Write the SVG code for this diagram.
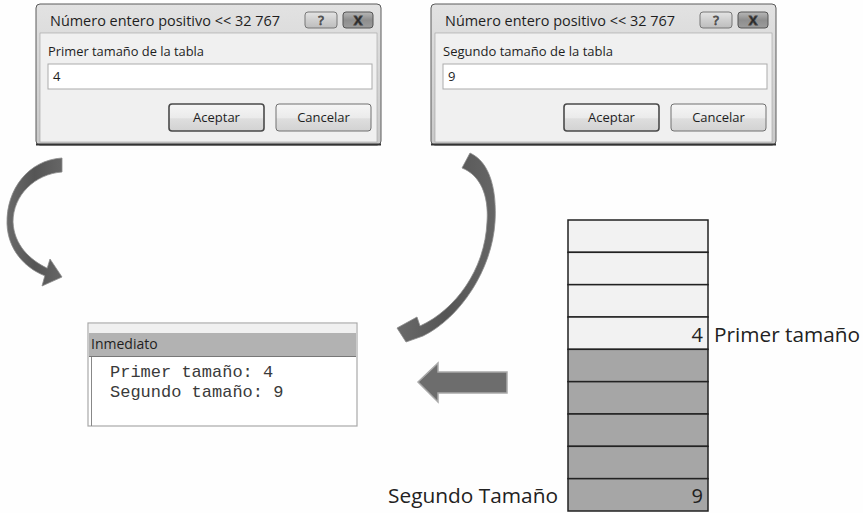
<svg xmlns="http://www.w3.org/2000/svg" width="863" height="513" viewBox="0 0 863 513">
  <defs>
    <linearGradient id="titleGrad" x1="0" y1="0" x2="0" y2="1">
      <stop offset="0" stop-color="#e2e2e2"/>
      <stop offset="1" stop-color="#c9c9c9"/>
    </linearGradient>
    <linearGradient id="btnGrad" x1="0" y1="0" x2="0" y2="1">
      <stop offset="0" stop-color="#f6f6f6"/>
      <stop offset="0.5" stop-color="#ebebeb"/>
      <stop offset="0.55" stop-color="#dedede"/>
      <stop offset="1" stop-color="#d2d2d2"/>
    </linearGradient>
    <linearGradient id="capGrad" x1="0" y1="0" x2="0" y2="1">
      <stop offset="0" stop-color="#e4e4e4"/>
      <stop offset="0.5" stop-color="#cfcfcf"/>
      <stop offset="1" stop-color="#bdbdbd"/>
    </linearGradient>
    <linearGradient id="closeGrad" x1="0" y1="0" x2="0" y2="1">
      <stop offset="0" stop-color="#b8b8b8"/>
      <stop offset="0.5" stop-color="#8e8e8e"/>
      <stop offset="1" stop-color="#9c9c9c"/>
    </linearGradient>
    <linearGradient id="arrowGrad" x1="0" y1="0" x2="1" y2="0">
      <stop offset="0" stop-color="#6a6a6a"/>
      <stop offset="0.5" stop-color="#555555"/>
      <stop offset="1" stop-color="#666666"/>
    </linearGradient>
  </defs>
  <style>
    .ui { font-family: "Open Sans", "Noto Sans", "DejaVu Sans", sans-serif; fill: #1e1e1e; }
    .title { font-size: 15px; }
    .label { font-size: 13px; }
    .btn { fill: url(#btnGrad); stroke: #707070; stroke-width: 1; }
    .btnDefault { fill: url(#btnGrad); stroke: #4a4a4a; stroke-width: 1.6; }
    .btnText { font-size: 13px; text-anchor: middle; }
    .mono { font-family: "Liberation Mono", "DejaVu Sans Mono", monospace; font-size: 17px; fill: #3a3a3a; }
    .cell { stroke: #222; stroke-width: 1.5; }
    .light { fill: #f2f2f2; }
    .dark { fill: #a6a6a6; }
    .cal { font-family: "Open Sans", "Noto Sans", sans-serif; font-size: 20px; fill: #222; }
    .curved { fill: url(#arrowGrad); stroke: #8c8c8c; stroke-width: 0.8; }
    .block { fill: #6d6d6d; stroke: #a9a9a9; stroke-width: 1.5; }
  </style>

  <rect x="0" y="0" width="863" height="513" fill="#fefefe"/>

  <!-- first input dialog -->
  <g id="dialog1">
    <rect x="36" y="4" width="345" height="141" rx="4" fill="url(#titleGrad)" stroke="#5a5a5a" stroke-width="1"/>
    <rect x="40" y="33" width="337" height="109" fill="#f0f0f0" stroke="#a0a0a0" stroke-width="0.6"/>
    <line x1="36" y1="144.5" x2="381" y2="144.5" stroke="#333" stroke-width="2"/>
    <text class="ui title" x="50" y="26" textLength="230" lengthAdjust="spacingAndGlyphs">Número entero positivo &lt;&lt; 32 767</text>
    <rect x="305" y="12" width="32" height="16" rx="3" fill="url(#capGrad)" stroke="#777"/>
    <text class="ui" x="321" y="25" font-size="13" text-anchor="middle" fill="#eee" stroke="#555" stroke-width="0.8">?</text>
    <rect x="343" y="12" width="30" height="16" rx="3" fill="url(#closeGrad)" stroke="#555"/>
    <text class="ui" x="358" y="25" font-size="13" font-weight="bold" text-anchor="middle" fill="#fff" stroke="#444" stroke-width="0.8">X</text>
    <text class="ui label" x="48" y="56" textLength="156" lengthAdjust="spacingAndGlyphs">Primer tamaño de la tabla</text>
    <rect x="48" y="64" width="324" height="25" fill="#fff" stroke="#ababab"/>
    <text class="ui label" x="53" y="81">4</text>
    <rect class="btnDefault" x="169" y="104" width="95" height="27" rx="3"/>
    <text class="ui btnText" x="216.5" y="122">Aceptar</text>
    <rect class="btn" x="276" y="104" width="95" height="27" rx="3"/>
    <text class="ui btnText" x="323.5" y="122">Cancelar</text>
  </g>

  <!-- second input dialog -->
  <g id="dialog2" transform="translate(395,0)">
    <rect x="36" y="4" width="345" height="141" rx="4" fill="url(#titleGrad)" stroke="#5a5a5a" stroke-width="1"/>
    <rect x="40" y="33" width="337" height="109" fill="#f0f0f0" stroke="#a0a0a0" stroke-width="0.6"/>
    <line x1="36" y1="144.5" x2="381" y2="144.5" stroke="#333" stroke-width="2"/>
    <text class="ui title" x="50" y="26" textLength="230" lengthAdjust="spacingAndGlyphs">Número entero positivo &lt;&lt; 32 767</text>
    <rect x="305" y="12" width="32" height="16" rx="3" fill="url(#capGrad)" stroke="#777"/>
    <text class="ui" x="321" y="25" font-size="13" text-anchor="middle" fill="#eee" stroke="#555" stroke-width="0.8">?</text>
    <rect x="343" y="12" width="30" height="16" rx="3" fill="url(#closeGrad)" stroke="#555"/>
    <text class="ui" x="358" y="25" font-size="13" font-weight="bold" text-anchor="middle" fill="#fff" stroke="#444" stroke-width="0.8">X</text>
    <text class="ui label" x="48" y="56" textLength="170" lengthAdjust="spacingAndGlyphs">Segundo tamaño de la tabla</text>
    <rect x="48" y="64" width="324" height="25" fill="#fff" stroke="#ababab"/>
    <text class="ui label" x="53" y="81">9</text>
    <rect class="btnDefault" x="169" y="104" width="95" height="27" rx="3"/>
    <text class="ui btnText" x="216.5" y="122">Aceptar</text>
    <rect class="btn" x="276" y="104" width="95" height="27" rx="3"/>
    <text class="ui btnText" x="323.5" y="122">Cancelar</text>
  </g>

  <!-- immediate window -->
  <g id="immediate">
    <rect x="88" y="323" width="269" height="103" fill="#fff" stroke="#a8a8a8" stroke-width="1.2"/>
    <rect x="89" y="324" width="267" height="9" fill="#f0f0f0"/>
    <rect x="89" y="333" width="267" height="23" fill="#b2b2b2"/>
    <line x1="89" y1="356.5" x2="356" y2="356.5" stroke="#777" stroke-width="1"/>
    <line x1="91.5" y1="357" x2="91.5" y2="426" stroke="#888" stroke-width="1"/>
    <text class="ui" x="91" y="349" font-size="14" fill="#222">Inmediato</text>
    <text class="mono" x="110" y="377">Primer tamaño: 4</text>
    <text class="mono" x="110" y="397">Segundo tamaño: 9</text>
  </g>

  <!-- memory table -->
  <g id="table">
    <rect class="cell light" x="568" y="220" width="140" height="32.33"/>
    <rect class="cell light" x="568" y="252.33" width="140" height="32.33"/>
    <rect class="cell light" x="568" y="284.67" width="140" height="32.33"/>
    <rect class="cell light" x="568" y="317" width="140" height="32.33"/>
    <rect class="cell dark" x="568" y="349.33" width="140" height="32.33"/>
    <rect class="cell dark" x="568" y="381.67" width="140" height="32.33"/>
    <rect class="cell dark" x="568" y="414" width="140" height="32.33"/>
    <rect class="cell dark" x="568" y="446.33" width="140" height="32.33"/>
    <rect class="cell dark" x="568" y="478.67" width="140" height="32.33"/>
    <text class="cal" x="703" y="342" text-anchor="end">4</text>
    <text class="cal" x="714" y="342" textLength="146" lengthAdjust="spacingAndGlyphs">Primer tamaño</text>
    <text class="cal" x="703" y="503" text-anchor="end">9</text>
    <text class="cal" x="388" y="503" textLength="170" lengthAdjust="spacingAndGlyphs">Segundo Tamaño</text>
  </g>

  <!-- connectors -->
  <g id="connectors">
    <path class="curved" d="M62,158 C28,160 6,190 7,224 C8,250 25,268 44.8,275.8 L42,286 L62,277 L50,259 L47.2,268.2 C30,260 14,245 13,222 C13,195 35,174 62,172 Z"/>
    <path class="curved" d="M470,153 C490,162 497,190 495,222 C492,270 460,318 423,336 L406,342 L397,328 L417,317 L420,326 C455,310 485,270 487,222 C489,195 480,175 462,168 Z"/>
    <polygon class="block" points="418,382 438,363 438,372 507,372 507,393 438,393 438,402"/>
  </g>
</svg>
